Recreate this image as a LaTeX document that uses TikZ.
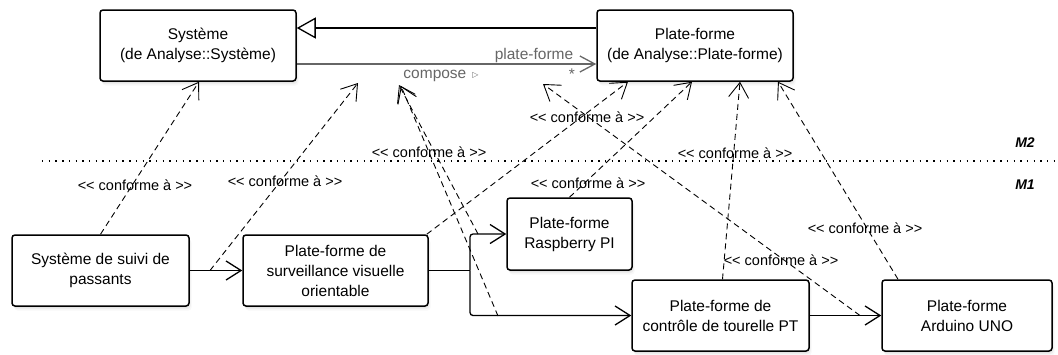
\documentclass[tikz,border=0pt]{standalone}
\usepackage{fontspec}
\setmainfont{Liberation Sans}
\newfontfamily\symfont{DejaVu Sans}
\usetikzlibrary{arrows.meta,shadows}
\newcommand\conflbl{<\kern0pt< conforme à >\kern0pt>}
\begin{document}
\begin{tikzpicture}[x=1pt,y=-1pt,
  box/.style={draw, line width=1.5pt, rounded corners=3pt, fill=white, align=center,
    font=\fontsize{15.5}{20}\selectfont, inner sep=0pt,
    drop shadow={shadow xshift=2.5pt,shadow yshift=-4.5pt,opacity=0.06},
    drop shadow={shadow xshift=1.5pt,shadow yshift=-3pt,opacity=0.09},
    drop shadow={shadow xshift=0.7pt,shadow yshift=-1.5pt,opacity=0.12}},
  flow/.style={line width=1.3pt, -{Straight Barb[length=15pt,width=19pt,line width=1.3pt]}},
  conf/.style={line width=0.9pt, dash pattern=on 6pt off 4pt,
    -{Straight Barb[length=15pt,width=20pt,line width=0.9pt]}},
  lbl/.style={font=\fontsize{14.5}{17}\selectfont, inner sep=0pt},
  glbl/.style={font=\fontsize{15.5}{17}\selectfont, inner sep=0pt, text=assoc},
  level/.style={font=\fontsize{14}{16}\selectfont\bfseries\itshape, inner sep=0pt},
]
\definecolor{assoc}{HTML}{666666}
\path[use as bounding box] (0,0) rectangle (1058,354);

% levels separator
\coordinate (sepL) at (42,161);
\coordinate (sepR) at (1058,161);
\draw[line width=1.2pt, dash pattern=on 1.4pt off 5.3pt] (sepL) -- (sepR);
\node[level] (m2) at (1025,143) {M2};
\node[level] (m1) at (1025,185) {M1};

% boxes
\node[box, minimum width=196pt, minimum height=71pt] (sys) at (198,45.5) {Système\\(de Analyse::Système)};
\node[box, minimum width=196pt, minimum height=71pt] (pf) at (695,45.5) {Plate-forme\\(de Analyse::Plate-forme)};
\node[box, minimum width=177pt, minimum height=71pt] (ssp) at (100.5,270.5) {Système de suivi de\\passants};
\node[box, minimum width=185pt, minimum height=71pt] (psv) at (335.5,270.5) {Plate-forme de\\surveillance visuelle\\orientable};
\node[box, minimum width=125pt, minimum height=72pt] (rpi) at (569.5,234) {Plate-forme\\Raspberry PI};
\node[box, minimum width=177pt, minimum height=71pt] (ptpt) at (720.5,315.5) {Plate-forme de\\contrôle de tourelle PT};
\node[box, minimum width=170pt, minimum height=71pt] (ard) at (967,315.5) {Plate-forme\\Arduino UNO};

% generalization
\draw[line width=1.3pt, -{Triangle[open,length=19pt,width=21pt,line width=1.3pt,fill=white]}]
  ([yshift=17.5pt]pf.west) -- ([yshift=17.5pt]sys.east);

% association compose
\draw[assoc, line width=1.3pt, -{Straight Barb[length=15pt,width=16pt,line width=1.3pt]}]
  ([yshift=-18.5pt]sys.east) -- ([yshift=-18.5pt]pf.west);
\node[glbl] (role) at (534,55) {plate-forme};
\node[glbl] (mult) at (572,74) {*};
\node[glbl] (comp) at (441,76) {compose\hspace{6pt}\raisebox{1pt}{\symfont\fontsize{8}{8}\selectfont ▷}};

% M1 links
\coordinate (fork) at (470,270.5);
\draw[flow] (ssp.east) -- (psv.west);
\draw[line width=1.3pt] (psv.east) -- (fork);
\draw[flow, rounded corners=3pt] (fork) |- (rpi.west);
\draw[flow, rounded corners=3pt] (fork) |- (ptpt.west);
\draw[flow] (ptpt.east) -- (ard.west);

% free ends of conformity links
\coordinate (s2) at (210,270.5);
\coordinate (t2) at (358,83);
\coordinate (s3a) at (478,234);
\coordinate (s3b) at (498,316);
\coordinate (t3a) at (399,85);
\coordinate (t3b) at (401,86);
\coordinate (s7) at (860,315.5);
\coordinate (t7) at (543,84);

% conformity links
\draw[conf] (ssp.north) -- ([xshift=1pt]sys.south);
\draw[conf] (s2) -- (t2);
\draw[conf] (s3a) -- (t3a);
\draw[conf] (s3b) -- (t3b);
\draw[conf] ([xshift=-2pt]psv.north east) -- ([xshift=-67pt]pf.south);
\draw[conf] (rpi.north) -- ([xshift=-3pt]pf.south);
\draw[conf] ([xshift=2pt]ptpt.north) -- ([xshift=45pt]pf.south);
\draw[conf] (s7) -- (t7);
\draw[conf] ([xshift=-69pt]ard.north) -- ([xshift=83pt]pf.south);

% labels
\node[lbl] (l1) at (135,185) {\conflbl};
\node[lbl] (l2) at (285,181) {\conflbl};
\node[lbl] (l3) at (429,152) {\conflbl};
\node[lbl] (l4) at (587,117) {\conflbl};
\node[lbl] (l5) at (588,183) {\conflbl};
\node[lbl] (l6) at (735,153) {\conflbl};
\node[lbl] (l7) at (781,260) {\conflbl};
\node[lbl] (l8) at (865,228) {\conflbl};
\end{tikzpicture}
\end{document}
